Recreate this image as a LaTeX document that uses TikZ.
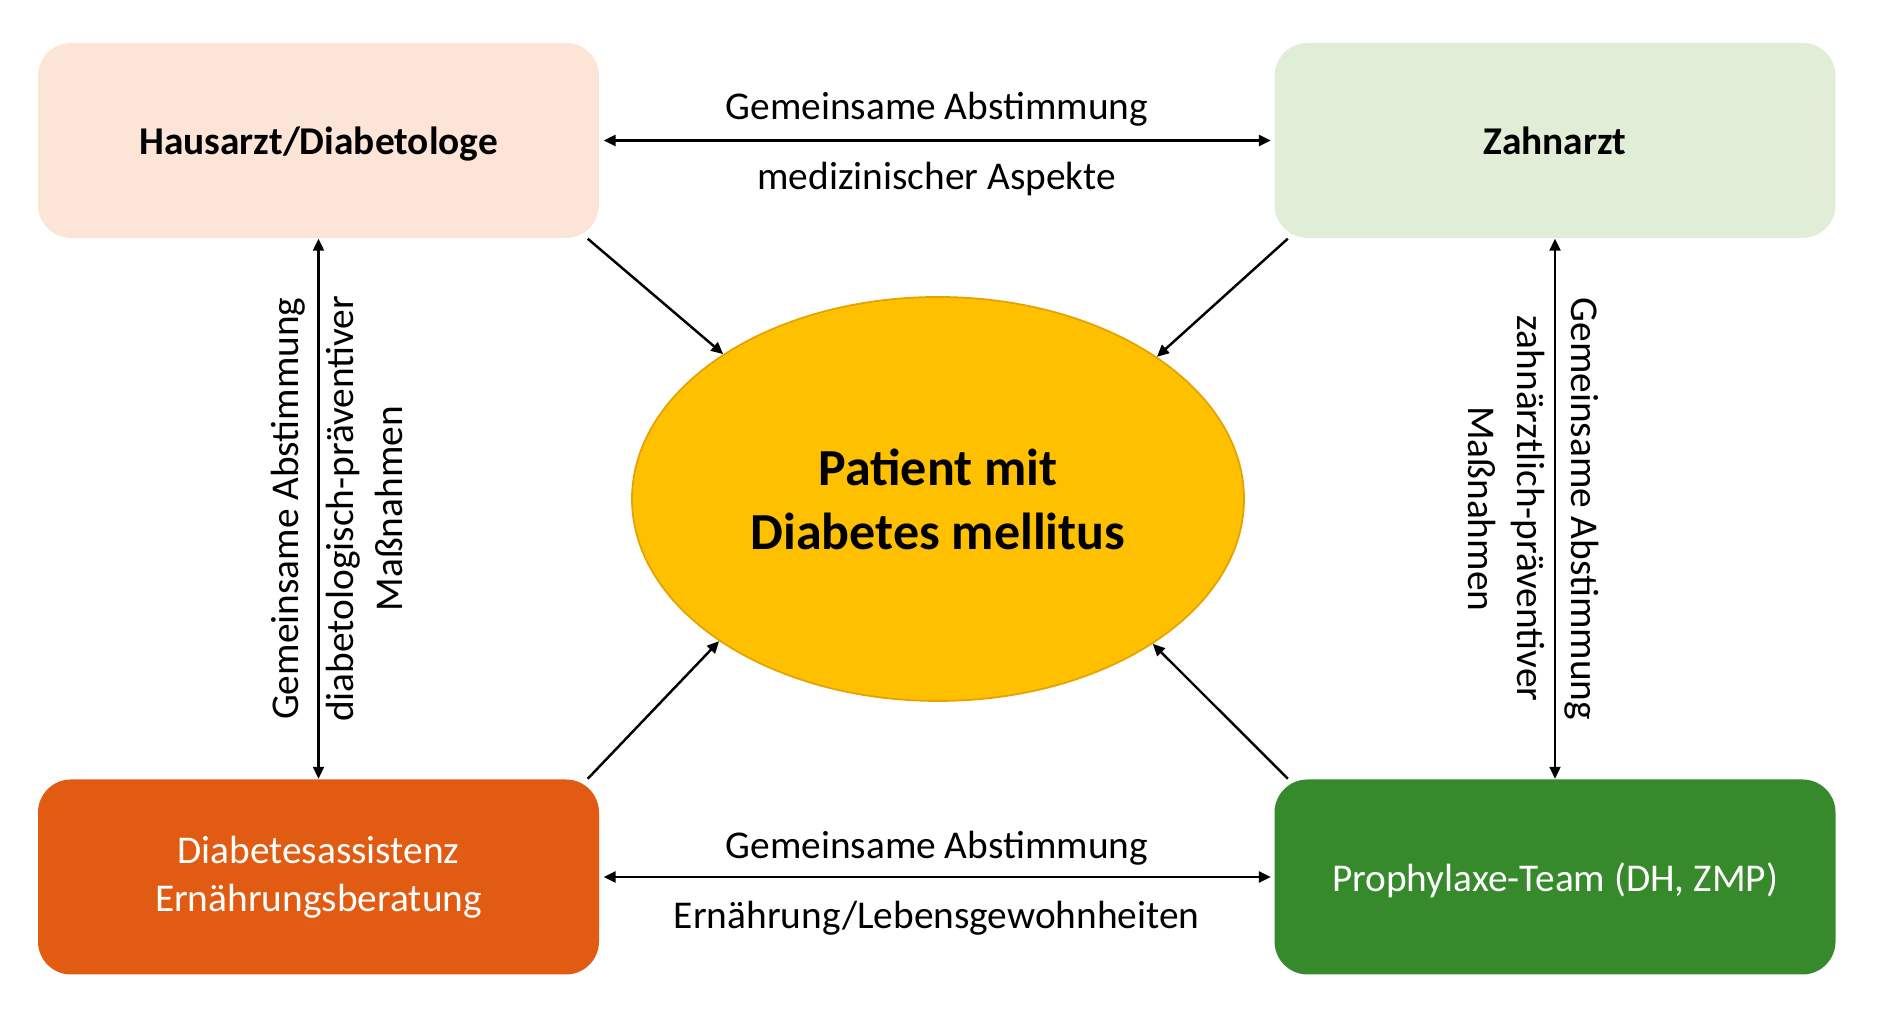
\documentclass[tikz,border=0pt]{standalone}
\usepackage{fontspec}
\setmainfont{Carlito}
\usepackage{xcolor}
\usetikzlibrary{calc,arrows.meta,shapes.geometric}

\definecolor{hausarztfill}{RGB}{252,228,214}
\definecolor{zahnarztfill}{RGB}{224,238,215}
\definecolor{assistenzfill}{RGB}{226,91,18}
\definecolor{prophylaxefill}{RGB}{54,138,44}
\definecolor{patientfill}{RGB}{255,192,0}
\definecolor{patientline}{RGB}{228,163,0}

\begin{document}
\begin{tikzpicture}[
        box/.style={rectangle, rounded corners=0.33cm, minimum width=5.61cm, minimum height=1.95cm, inner sep=0pt, align=center},
        arrowtext/.style={font=\fontsize{11.2pt}{13.6pt}\selectfont, inner sep=0pt, anchor=base},
        both/.style={{Triangle[length=0.12cm,width=0.11cm]}-{Triangle[length=0.12cm,width=0.11cm]}, line width=0.75pt},
        topatient/.style={-{Triangle[length=0.12cm,width=0.11cm]}, line width=0.7pt}
    ]
        \useasboundingbox (0,0) rectangle (19,10.29);

        % the four boxes
        \node[box, fill=hausarztfill, text height=0.8em, text depth=0pt, font=\fontsize{11.2pt}{13.6pt}\selectfont\bfseries] (haus) at (3.185, 8.885) {Hausarzt/Diabetologe};
        \node[box, fill=zahnarztfill, text height=0.8em, text depth=0pt, font=\fontsize{11.2pt}{13.6pt}\selectfont\bfseries] (zahn) at (15.55, 8.885) {Zahnarzt};
        \node[box, fill=assistenzfill, text=white, font=\fontsize{11.2pt}{13.6pt}\selectfont] (assist) at (3.185, 1.52) {Diabetesassistenz\\Ernährungsberatung};
        \node[box, fill=prophylaxefill, text=white, text height=0.8em, text depth=0pt, font=\fontsize{11.2pt}{13.6pt}\selectfont] (prophy) at (15.55, 1.52) {Prophylaxe-Team (DH, ZMP)};

        % patient in the middle
        \node[ellipse, fill=patientfill, draw=patientline, line width=0.5pt, minimum width=6.12cm, minimum height=4.04cm, inner sep=0pt, align=center, font=\fontsize{14.8pt}{18.2pt}\selectfont\bfseries] (patient) at (9.38, 5.30) {Patient mit\\Diabetes mellitus};

        \draw[both, shorten <=0.04cm, shorten >=0.03cm] (haus.east) -- (zahn.west);
        \node[arrowtext] (obenText1) at ($(haus.east)!0.5!(zahn.west)+(0,0.21)$) {Gemeinsame Abstimmung};
        \node[arrowtext] (obenText2) at ($(haus.east)!0.5!(zahn.west)+(0,-0.49)$) {medizinischer Aspekte};

        \draw[both, shorten <=0.04cm, shorten >=0.03cm] (assist.east) -- (prophy.west);
        \node[arrowtext] (untenText1) at ($(assist.east)!0.5!(prophy.west)+(0,0.18)$) {Gemeinsame Abstimmung};
        \node[arrowtext] (untenText2) at ($(assist.east)!0.5!(prophy.west)+(0,-0.52)$) {Ernährung/Lebensgewohnheiten};

        \draw[both, line width=0.6pt] (haus.south) -- (assist.north);
        \node[arrowtext, rotate=90] (linksText1) at ($(haus.south)!0.5!(assist.north)+(-0.20,0)$) {Gemeinsame Abstimmung};
        \node[arrowtext, rotate=90] (linksText2) at ($(haus.south)!0.5!(assist.north)+(0.35,0)$) {diabetologisch-präventiver};
        \node[arrowtext, rotate=90] (linksText3) at ($(haus.south)!0.5!(assist.north)+(0.84,0)$) {Maßnahmen};

        \draw[both, line width=0.6pt] (zahn.south) -- (prophy.north);
        \node[arrowtext, rotate=-90] (rechtsText1) at ($(zahn.south)!0.5!(prophy.north)+(0.16,0)$) {Gemeinsame Abstimmung};
        \node[arrowtext, rotate=-90] (rechtsText2) at ($(zahn.south)!0.5!(prophy.north)+(-0.38,0)$) {zahnärztlich-präventiver};
        \node[arrowtext, rotate=-90] (rechtsText3) at ($(zahn.south)!0.5!(prophy.north)+(-0.87,0)$) {Maßnahmen};

        % everyone points to the patient
        \draw[topatient] ([xshift=-0.12cm]haus.south east) -- (patient.146.5);
        \draw[topatient] ([xshift=0.14cm]zahn.south west) -- (patient.33.5);
        \draw[topatient] ([xshift=-0.12cm]assist.north east) -- (patient.213.5);
        \draw[topatient] ([xshift=0.14cm]prophy.north west) -- (patient.326.5);
\end{tikzpicture}
\end{document}
